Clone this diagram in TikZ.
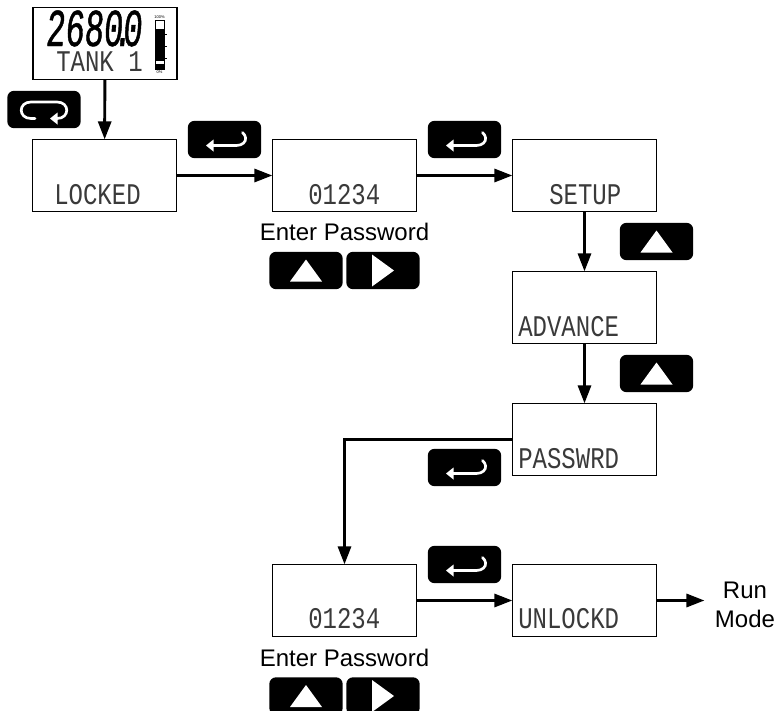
\documentclass[tikz,border=0pt]{standalone}
\usepackage{fontspec}
\setmainfont{Liberation Sans}
\newfontfamily\lcdfont[FakeStretch=0.8]{Liberation Mono}
\newfontfamily\lcdbig[FakeStretch=0.6,FakeSlant=0.08,FakeBold=0.8]{Liberation Mono}
\usetikzlibrary{arrows.meta}
\definecolor{lcdink}{HTML}{3A3A3A}
\tikzset{
  lcdbox/.style={draw=black,line width=1.1pt*0.75,minimum width=108pt,minimum height=54pt,inner sep=0pt,fill=white},
  btn/.style={fill=black,rounded corners=5pt,minimum width=55pt,minimum height=28pt,inner sep=0pt},
  lcd/.style={anchor=base west,inner sep=0pt,text=lcdink,font=\lcdfont\fontsize{22.5}{22.5}\selectfont},
  lbl/.style={inner sep=0pt,font=\fontsize{18}{22}\selectfont,align=center},
  flow/.style={line width=2.2pt,-{Triangle[length=13.5pt,width=9.8pt]},shorten >=-0.3pt},
  icon/.style={draw=white,line width=2pt,line cap=round},
  tiny/.style={inner sep=0pt,font=\fontsize{3}{3}\selectfont},
  enterpic/.pic={
    \draw[icon] (-13,6) -- (12,6) .. controls (18,6) and (22,2) .. (21,-2) .. controls (20.5,-4) and (20,-5) .. (18,-7);
    \fill[white] (-18.5,6) -- (-11,0) -- (-11,12) -- cycle;
  },
  looppic/.pic={
    \draw[icon] (-9,9) -- (-13,9) .. controls (-26,9) and (-26,-7.5) .. (-13,-7.5) -- (13,-7.5) .. controls (26,-7.5) and (26,9) .. (13,9) -- (10,9);
    \fill[white] (6,9) -- (13.5,3) -- (13.5,15) -- cycle;
  },
  uppic/.pic={\fill[white] (0,-11) -- (16,11) -- (-16,11) -- cycle;},
  rightpic/.pic={\fill[white] (11,0) -- (-11,16) -- (-11,-16) -- cycle;}
}
\begin{document}
\begin{tikzpicture}[x=0.75pt,y=-0.75pt]
\useasboundingbox (0,0) rectangle (776,711);
\clip (0,0) rectangle (776,711);
% display boxes
\node[lcdbox] (disp) at (105,43.5) {};
\node[lcdbox] (lock) at (104.5,175.5) {};
\node[lcdbox] (pa) at (344.5,175.5) {};
\node[lcdbox] (setup) at (584.5,175.5) {};
\node[lcdbox] (adv) at (584.5,307.5) {};
\node[lcdbox] (pw) at (584.5,439.5) {};
\node[lcdbox] (pb) at (344.5,600.5) {};
\node[lcdbox] (unl) at (584.5,600.5) {};
% display text
\node[lcd,text=black,font=\lcdbig\fontsize{40}{40}\selectfont] (big) at (45,46) {2680\kern-7.2pt.\kern-7.1pt 0};
\node[lcd] (tank) at (56,71) {TANK 1};
\node[lcd] (t1) at (54,204) {LOCKED};
\node[lcd] (t2) at (308,204) {01234};
\node[lcd] (t3) at (549,204) {SETUP};
\node[lcd] (t4) at (518,336) {ADVANCE};
\node[lcd] (t5) at (518,468) {PASSWRD};
\node[lcd] (t6) at (308,628) {01234};
\node[lcd] (t7) at (518,628) {UNLOCKD};
% bar graph
\draw[line width=0.6pt] (155,20) rectangle (164.5,69.5);
\fill[black] (155,29) rectangle (164.5,61);
\fill[black] (155,63.5) rectangle (164.5,69.5);
\foreach \yy in {34,46,58} \draw[line width=0.4pt] (164.5,\yy) -- (166.5,\yy);
\node[tiny] (pct1) at (159.5,17) {100\%};
\node[tiny] (pct0) at (159.5,72.5) {0\%};
% buttons
\node[btn] (bloop) at (44,109.5) {};
\node[btn] (be1) at (224.5,139.5) {};
\node[btn] (be2) at (464.5,139.5) {};
\node[btn] (bu1) at (656.5,241.5) {};
\node[btn] (bu2) at (656.5,373.5) {};
\node[btn] (be3) at (464.5,467.5) {};
\node[btn] (be4) at (464.5,564.5) {};
\node[btn] (bu3) at (306,270.5) {};
\node[btn] (br3) at (383,270.5) {};
\node[btn] (bu4) at (306,696) {};
\node[btn] (br4) at (383,696) {};
\pic at (bloop.center) {looppic};
\pic at (be1.center) {enterpic};
\pic at (be2.center) {enterpic};
\pic at (be3.center) {enterpic};
\pic at (be4.center) {enterpic};
\pic at (bu1.center) {uppic};
\pic at (bu2.center) {uppic};
\pic at (bu3.center) {uppic};
\pic at (br3.center) {rightpic};
\pic at (bu4.center) {uppic};
\pic at (br4.center) {rightpic};
% labels
\node[lbl] (ep1) at (344.5,232) {Enter Password};
\node[lbl] (ep2) at (344.5,658) {Enter Password};
\node[lbl,inner xsep=8pt] (run) at (745,605) {Run\\Mode};
% connectors
\draw[flow] (disp) -- (lock);
\draw[flow] (lock) -- (pa);
\draw[flow] (pa) -- (setup);
\draw[flow] (setup) -- (adv);
\draw[flow] (adv) -- (pw);
\draw[flow] (pw.west) -| (pb.north);
\draw[flow] (pb) -- (unl);
\draw[flow] (unl.east) -- (unl.east -| run.west);
\end{tikzpicture}
\end{document}
